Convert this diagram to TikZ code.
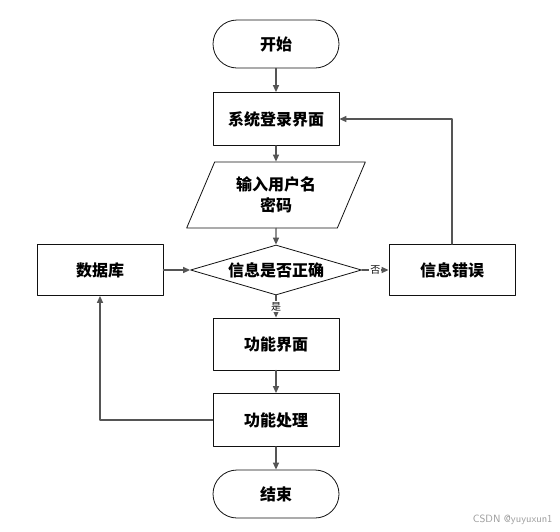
\documentclass[tikz,border=0pt]{standalone}
\usepackage{fontspec}
\newfontfamily\cjk{Noto Sans CJK SC}
\usetikzlibrary{arrows.meta,shapes.geometric}
\definecolor{flowLine}{HTML}{555555}
\definecolor{flowInk}{HTML}{111111}
\definecolor{flowMark}{HTML}{9A9A9A}

\begin{document}
\begin{tikzpicture}[x=1pt,y=-1pt,>=Triangle,line cap=round,line join=round,font=\cjk]
\path[fill=white] (0,0) rectangle (560,531);
\tikzset{step box/.style={draw=flowInk,line width=0.8pt,minimum width=126pt,minimum height=53pt,font=\cjk\bfseries\fontsize{16}{19}\selectfont},
  term box/.style={step box,rounded corners=24pt,minimum height=48pt},
  link/.style={draw=flowLine,line width=1.3pt,-{Triangle[length=7pt,width=6pt]}},
  tag/.style={font=\cjk\fontsize{10}{12}\selectfont,text=flowInk,inner sep=1pt}}
\node[term box] (start) at (276,44) {开始};
\node[step box] (login) at (276,119) {系统登录界面};
\node[draw=flowInk,line width=0.8pt,trapezium,trapezium left angle=67,trapezium right angle=113,minimum width=179pt,minimum height=50pt,inner xsep=0pt,align=center,font=\cjk\bfseries\fontsize{16}{21}\selectfont] (input) at (276,195) {输入用户名\\密码};
\node[draw=flowInk,line width=0.8pt,diamond,aspect=3.4,minimum width=171pt,minimum height=50pt,inner sep=0pt,font=\cjk\bfseries\fontsize{16}{19}\selectfont] (check) at (276,270) {信息是否正确};
\node[step box,minimum height=51pt] (db) at (100,270) {数据库};
\node[step box,minimum height=51pt] (wrong) at (452,270) {信息错误};
\node[step box,minimum height=52pt] (menu) at (276,344) {功能界面};
\node[step box] (work) at (276,420) {功能处理};
\node[term box] (stop) at (276,494) {结束};
\draw[link] (start) -- (login);
\draw[link] (login) -- (input);
\draw[link] (input) -- (check);
\draw[link] (check) -- node[tag,fill=white] {是} (menu);
\draw[link] (check) -- node[tag,fill=white] {否} (wrong);
\draw[link] (wrong.north) |- (login.east);
\draw[link] (db) -- (check);
\draw[link] (work.west) -| (db.south);
\draw[link] (menu) -- (work);
\draw[link] (work) -- (stop);
\node[anchor=east,text=flowMark,font=\sffamily\fontsize{10.5}{12}\selectfont] (mark) at (556,520) {CSDN @yuyuxun1};
\end{tikzpicture}
\end{document}
